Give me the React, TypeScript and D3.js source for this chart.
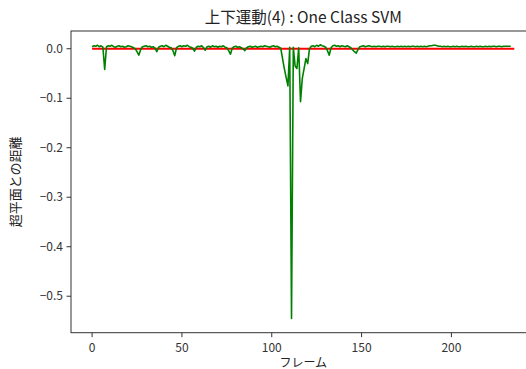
import React from "react";
import * as d3 from "d3";

const title = "上下運動(4) : One Class SVM";
const xLabel = "フレーム";
const yLabel = "超平面との距離";
const xTicks = [0, 50, 100, 150, 200];
const yTicks = [0.0, -0.1, -0.2, -0.3, -0.4, -0.5];
const boundaryX = [0, 235];
const boundaryY = [0, 0];
const distances = [
  0.004, 0.006, 0.005, 0.007, 0.004, 0.006, 0.003, -0.042, 0.004, 0.006,
  0.005, 0.007, 0.004, 0.003, 0.005, 0.006, 0.004, 0.005, 0.003, 0.004,
  0.006, 0.005, 0.004, 0.002, 0.0, -0.006, -0.013, -0.002, 0.004, 0.005,
  0.006, 0.004, 0.005, 0.003, 0.004, 0.001, -0.006, 0.003, 0.005, 0.006,
  0.004, 0.007, 0.005, 0.003, 0.002, -0.004, -0.014, 0.002, 0.005, 0.006,
  0.004, 0.006, 0.005, 0.007, 0.004, 0.003, 0.001, -0.005, 0.003, 0.005,
  0.004, 0.006, 0.002, -0.003, 0.004, 0.005, 0.003, 0.006, 0.004, 0.005,
  0.003, 0.005, 0.004, 0.006, 0.003, 0.002, -0.004, -0.011, 0.001, 0.004,
  0.005, 0.003, 0.004, 0.002, 0.0, -0.004, 0.002, 0.004, 0.005, 0.003,
  0.004, 0.005, 0.003, 0.004, 0.005, 0.004, 0.006, 0.005, 0.004, 0.003,
  0.005, 0.006, 0.004, 0.005, 0.003, 0.001, -0.02, -0.04, -0.058, -0.075,
  0.003, -0.545, 0.003, -0.035, -0.04, 0.002, -0.107, -0.06, -0.04, -0.02,
  -0.03, 0.0, 0.005, 0.006, 0.004, 0.007, 0.005, 0.008, 0.006, 0.005,
  0.003, -0.004, -0.013, 0.002, 0.006, 0.007, 0.005, 0.006, 0.004, 0.006,
  0.005, 0.004, 0.006, 0.004, 0.002, -0.002, -0.006, -0.009, -0.002, 0.004,
  0.005, 0.006, 0.004, 0.005, 0.006, 0.005, 0.004, 0.005, 0.004, 0.005,
  0.005, 0.004, 0.005, 0.004, 0.005, 0.005, 0.004, 0.005, 0.004, 0.004,
  0.005, 0.004, 0.005, 0.004, 0.005, 0.004, 0.005, 0.004, 0.005, 0.005,
  0.004, 0.005, 0.004, 0.005, 0.004, 0.005, 0.004, 0.005, 0.006, 0.006,
  0.007, 0.007, 0.006, 0.005, 0.005, 0.004, 0.005, 0.004, 0.005, 0.004,
  0.004, 0.005, 0.004, 0.005, 0.004, 0.004, 0.005, 0.004, 0.005, 0.004,
  0.004, 0.005, 0.004, 0.004, 0.005, 0.004, 0.005, 0.004, 0.004, 0.005,
  0.004, 0.005, 0.004, 0.005, 0.005, 0.004, 0.005, 0.005, 0.004, 0.005,
  0.005, 0.005, 0.005, 0.005,
];

const W = 526;
const H = 369;
const M = { left: 71, top: 31, right: 535.4, bottom: 332.7 };
const FONT = "'Noto Sans CJK JP', 'Noto Sans', sans-serif";

export default function App() {
  const x = d3.scaleLinear().domain([-11.75, 246.75]).range([M.left, M.right]);
  const y = d3.scaleLinear().domain([-0.5737, 0.0358]).range([M.bottom, M.top]);
  const line = d3
    .line<number>()
    .x((_, i) => x(i))
    .y((d) => y(d));
  const redLine = d3
    .line<number>()
    .x((d) => x(d))
    .y((_, i) => y(boundaryY[i]));
  const fmt = (v: number) => (v < 0 ? "\u2212" + Math.abs(v).toFixed(1) : v.toFixed(1));
  return (
    <svg
      width={W}
      height={H}
      style={{ position: "absolute", left: 0, top: 0 }}
      fontFamily={FONT}
    >
      <rect x={0} y={0} width={W} height={H} fill="#fff" />
      <defs>
        <clipPath id="plot">
          <rect x={M.left} y={M.top} width={M.right - M.left} height={M.bottom - M.top} />
        </clipPath>
      </defs>
      <g clipPath="url(#plot)">
        <path d={redLine(boundaryX) || ""} fill="none" stroke="#ff0000" strokeWidth={2} />
        <path d={line(distances) || ""} fill="none" stroke="#008000" strokeWidth={1.6} strokeLinejoin="round" />
      </g>
      <rect
        x={M.left}
        y={M.top}
        width={M.right - M.left}
        height={M.bottom - M.top}
        fill="none"
        stroke="#333"
        strokeWidth={1}
      />
      {xTicks.map((t) => (
        <g key={"x" + t}>
          <line x1={x(t)} x2={x(t)} y1={M.bottom} y2={M.bottom + 4.5} stroke="#333" />
          <text x={x(t)} y={M.bottom + 19} textAnchor="middle" fontSize={12} fill="#333">
            {t}
          </text>
        </g>
      ))}
      {yTicks.map((t) => (
        <g key={"y" + t}>
          <line x1={M.left - 4.5} x2={M.left} y1={y(t)} y2={y(t)} stroke="#333" />
          <text x={M.left - 8} y={y(t)} dy="0.35em" textAnchor="end" fontSize={12} fill="#333">
            {fmt(t)}
          </text>
        </g>
      ))}
      <text x={(M.left + M.right) / 2} y={23} textAnchor="middle" fontSize={15.5} fill="#222">
        {title}
      </text>
      <text x={(M.left + M.right) / 2} y={367} textAnchor="middle" fontSize={12} fill="#222">
        {xLabel}
      </text>
      <text
        transform={`translate(20,${(M.top + M.bottom) / 2}) rotate(-90)`}
        textAnchor="middle"
        fontSize={13}
        fill="#222"
      >
        {yLabel}
      </text>
    </svg>
  );
}
